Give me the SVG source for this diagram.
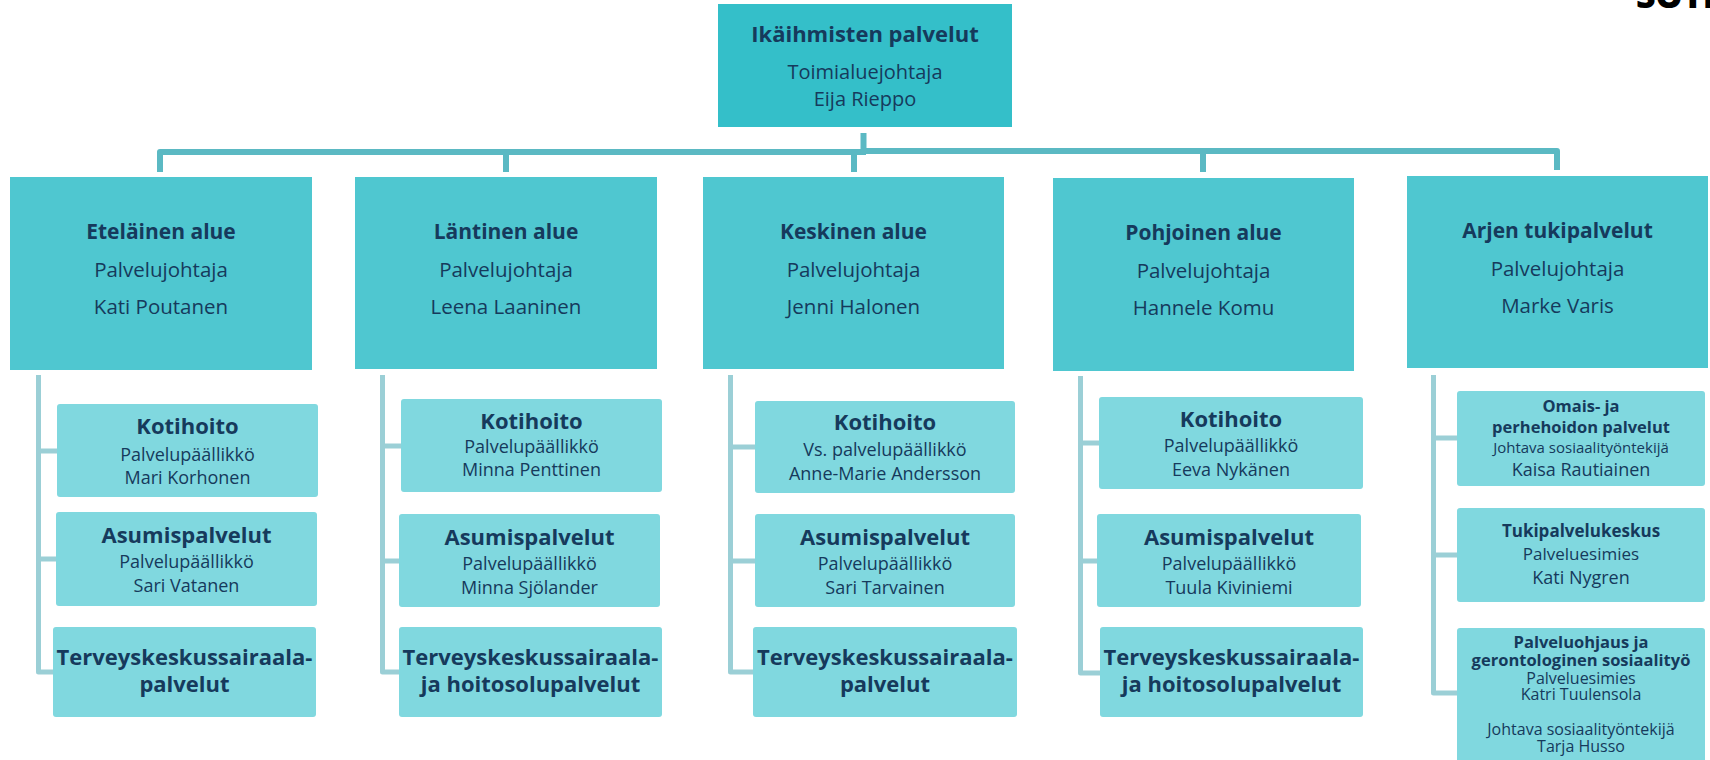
<svg xmlns="http://www.w3.org/2000/svg" width="1710" height="760" viewBox="0 0 1710 760">
<style>
text{font-family:"Open Sans","Noto Sans","Liberation Sans",sans-serif;fill:#163A5C;text-anchor:middle}
.top{fill:#34BFC9}
.l2{fill:#4FC7D0}
.ch{fill:#80D8DF}
.t22{font-size:22px;font-weight:700}
.t21{font-size:21px;font-weight:700}
.r20{font-size:20.5px}
.r18{font-size:18px}
.b16{font-size:16.5px;font-weight:700}
.r16{font-size:16px}
.bus{fill:none;stroke:#5BB9C3;stroke-width:6;stroke-linejoin:round}
.tr{fill:none;stroke:#9BCFD6;stroke-width:5;stroke-linejoin:round}
</style>
<rect width="1710" height="760" fill="#fff"/>
<text x="1636" y="8" style="font-size:34px;font-weight:800;fill:#000;text-anchor:start">SOTE</text>
<g id="connectors">
<path class="bus" d="M160,172 V152 H866"/>
<path class="bus" d="M863.5,133 V151 H1557 V170"/>
<path class="bus" d="M506,172 V152"/>
<path class="bus" d="M854,172 V152"/>
<path class="bus" d="M1203,172 V151"/>
<path class="tr" d="M38.5,375 V672 H53 M38.5,451 H57 M38.5,559 H56"/>
<path class="tr" d="M382.5,375 V672 H399 M382.5,446 H401 M382.5,561 H399"/>
<path class="tr" d="M730.5,375 V672 H753 M730.5,447 H755 M730.5,561 H755"/>
<path class="tr" d="M1080.5,376 V673 H1100 M1080.5,443 H1099 M1080.5,561 H1097"/>
<path class="tr" d="M1433.5,375 V693 H1457 M1433.5,438 H1457 M1433.5,555 H1457"/>
</g>
<g id="root">
<rect class="top" x="718" y="4" width="294" height="123"/>
<text x="865" y="41.5" class="t22">Ikäihmisten palvelut</text>
<text x="865" y="79" class="r20" style="font-size:20px">Toimialuejohtaja</text>
<text x="865" y="106" class="r20" style="font-size:20px">Eija Rieppo</text>
</g>
<g id="etelainen">
<rect class="l2" x="10" y="177" width="302" height="193"/>
<text x="161" y="239" class="t21">Eteläinen alue</text>
<text x="161" y="277" class="r20">Palvelujohtaja</text>
<text x="161" y="314" class="r20">Kati Poutanen</text>
</g>
<g id="lantinen">
<rect class="l2" x="355" y="177" width="302" height="192"/>
<text x="506" y="239" class="t21">Läntinen alue</text>
<text x="506" y="277" class="r20">Palvelujohtaja</text>
<text x="506" y="314" class="r20">Leena Laaninen</text>
</g>
<g id="keskinen">
<rect class="l2" x="703" y="177" width="301" height="192"/>
<text x="853.5" y="239" class="t21">Keskinen alue</text>
<text x="853.5" y="277" class="r20">Palvelujohtaja</text>
<text x="853.5" y="314" class="r20">Jenni Halonen</text>
</g>
<g id="pohjoinen">
<rect class="l2" x="1053" y="178" width="301" height="193"/>
<text x="1203.5" y="240" class="t21">Pohjoinen alue</text>
<text x="1203.5" y="278" class="r20">Palvelujohtaja</text>
<text x="1203.5" y="315" class="r20">Hannele Komu</text>
</g>
<g id="arjen">
<rect class="l2" x="1407" y="176" width="301" height="192"/>
<text x="1557.5" y="238" class="t21">Arjen tukipalvelut</text>
<text x="1557.5" y="276" class="r20">Palvelujohtaja</text>
<text x="1557.5" y="313" class="r20">Marke Varis</text>
</g>
<g id="e-kotihoito">
<rect class="ch" x="57" y="404" width="261" height="93" rx="3"/>
<text x="187.5" y="434" class="t22">Kotihoito</text>
<text x="187.5" y="460.5" class="r18">Palvelupäällikkö</text>
<text x="187.5" y="483.5" class="r18">Mari Korhonen</text>
</g>
<g id="e-asumis">
<rect class="ch" x="56" y="512" width="261" height="94" rx="3"/>
<text x="186.5" y="542.5" class="t22">Asumispalvelut</text>
<text x="186.5" y="567.5" class="r18">Palvelupäällikkö</text>
<text x="186.5" y="591.5" class="r18">Sari Vatanen</text>
</g>
<g id="e-terveys">
<rect class="ch" x="53" y="627" width="263" height="90" rx="3"/>
<text x="184.5" y="665" class="t22">Terveyskeskussairaala-</text>
<text x="184.5" y="691.5" class="t22">palvelut</text>
</g>
<g id="l-kotihoito">
<rect class="ch" x="401" y="399" width="261" height="93" rx="3"/>
<text x="531.5" y="428.5" class="t22">Kotihoito</text>
<text x="531.5" y="453" class="r18">Palvelupäällikkö</text>
<text x="531.5" y="476" class="r18">Minna Penttinen</text>
</g>
<g id="l-asumis">
<rect class="ch" x="399" y="514" width="261" height="93" rx="3"/>
<text x="529.5" y="545" class="t22">Asumispalvelut</text>
<text x="529.5" y="570" class="r18">Palvelupäällikkö</text>
<text x="529.5" y="593.5" class="r18">Minna Sjölander</text>
</g>
<g id="l-terveys">
<rect class="ch" x="399" y="627" width="263" height="90" rx="3"/>
<text x="530.5" y="665" class="t22">Terveyskeskussairaala-</text>
<text x="530.5" y="691.5" class="t22">ja hoitosolupalvelut</text>
</g>
<g id="k-kotihoito">
<rect class="ch" x="755" y="401" width="260" height="92" rx="3"/>
<text x="885" y="430" class="t22">Kotihoito</text>
<text x="885" y="456" class="r18">Vs. palvelupäällikkö</text>
<text x="885" y="479.5" class="r18">Anne-Marie Andersson</text>
</g>
<g id="k-asumis">
<rect class="ch" x="755" y="514" width="260" height="93" rx="3"/>
<text x="885" y="545" class="t22">Asumispalvelut</text>
<text x="885" y="570" class="r18">Palvelupäällikkö</text>
<text x="885" y="593.5" class="r18">Sari Tarvainen</text>
</g>
<g id="k-terveys">
<rect class="ch" x="753" y="627" width="264" height="90" rx="3"/>
<text x="885" y="665" class="t22">Terveyskeskussairaala-</text>
<text x="885" y="691.5" class="t22">palvelut</text>
</g>
<g id="p-kotihoito">
<rect class="ch" x="1099" y="397" width="264" height="92" rx="3"/>
<text x="1231" y="426.5" class="t22">Kotihoito</text>
<text x="1231" y="451.5" class="r18">Palvelupäällikkö</text>
<text x="1231" y="476" class="r18">Eeva Nykänen</text>
</g>
<g id="p-asumis">
<rect class="ch" x="1097" y="514" width="264" height="93" rx="3"/>
<text x="1229" y="545" class="t22">Asumispalvelut</text>
<text x="1229" y="570" class="r18">Palvelupäällikkö</text>
<text x="1229" y="593.5" class="r18">Tuula Kiviniemi</text>
</g>
<g id="p-terveys">
<rect class="ch" x="1100" y="627" width="263" height="90" rx="3"/>
<text x="1231.5" y="665" class="t22">Terveyskeskussairaala-</text>
<text x="1231.5" y="691.5" class="t22">ja hoitosolupalvelut</text>
</g>
<g id="a-omais">
<rect class="ch" x="1457" y="391" width="248" height="95" rx="3"/>
<text x="1581" y="411.5" class="b16">Omais- ja</text>
<text x="1581" y="433" class="b16">perhehoidon palvelut</text>
<text x="1581" y="452.5" style="font-size:15px">Johtava sosiaalityöntekijä</text>
<text x="1581" y="476" class="r18">Kaisa Rautiainen</text>
</g>
<g id="a-tuki">
<rect class="ch" x="1457" y="508" width="248" height="94" rx="3"/>
<text x="1581" y="536.5" class="b16" style="font-size:17px">Tukipalvelukeskus</text>
<text x="1581" y="560" class="r16" style="font-size:17px">Palveluesimies</text>
<text x="1581" y="583.5" class="r18">Kati Nygren</text>
</g>
<g id="a-palveluohjaus">
<rect class="ch" x="1457" y="628" width="248" height="140" rx="3"/>
<text x="1581" y="647.5" class="b16">Palveluohjaus ja</text>
<text x="1581" y="666" class="b16">gerontologinen sosiaalityö</text>
<text x="1581" y="683.5" class="r16">Palveluesimies</text>
<text x="1581" y="700" class="r16">Katri Tuulensola</text>
<text x="1581" y="734.5" class="r16">Johtava sosiaalityöntekijä</text>
<text x="1581" y="751.5" class="r16">Tarja Husso</text>
</g>
</svg>
